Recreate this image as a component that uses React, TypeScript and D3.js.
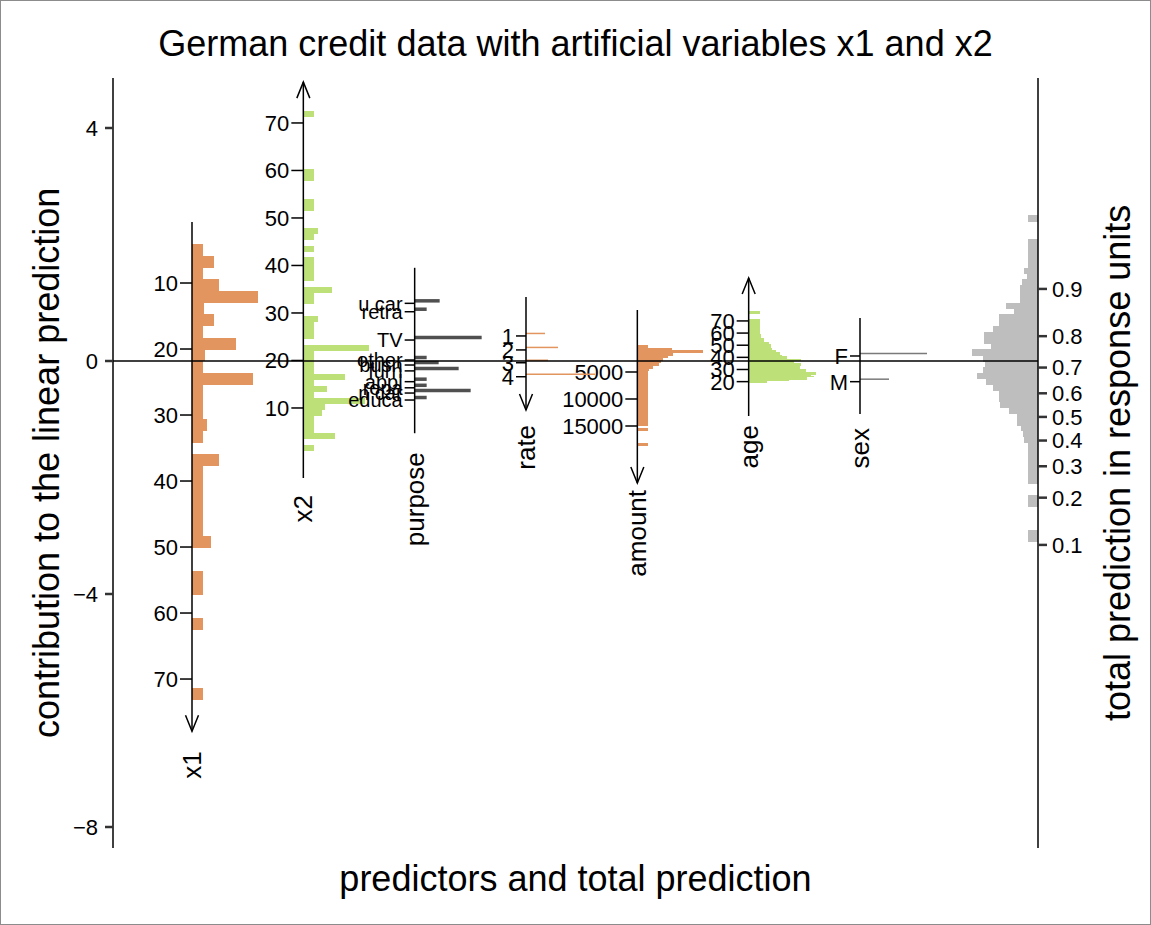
import React from "react";
import * as d3 from "d3";

const W = 1151;
const H = 925;

const titleText = "German credit data with artificial variables x1 and x2";
const xTitle = "predictors and total prediction";
const yTitleLeft = "contribution to the linear prediction";
const yTitleRight = "total prediction in response units";

const predictors = ["x1", "x2", "purpose", "rate", "amount", "age", "sex"];

// main linear-predictor axis
const lpTicks = [4, 0, -4, -8];
const lpAxisRange = [4.86, -8.36];
// response-unit axis (probability), logit(p) = lp + offset
const probTicks = [0.1, 0.2, 0.3, 0.4, 0.5, 0.6, 0.7, 0.8, 0.9];
const probOffset = 0.96;

// x1 (continuous): lp = intercept + slope * x1
const x1Ticks = [10, 20, 30, 40, 50, 60, 70];
const x1Coef = [2.472, -0.11331];
const x1AxisRange = [0.76, 77.9];
const x1BinStart = 4.1;
const x1BinWidth = 1.77;
const x1Counts = [11, 22, 11, 27, 66, 12, 22, 11, 44, 13, 11, 61, 11, 11, 11, 15, 11, 0, 27, 11, 11, 11, 11, 11, 11, 19, 0, 0, 11, 11, 0, 0, 11, 0, 0, 0, 0, 0, 11];

// x2 (continuous), bins listed from the highest value downwards
const x2Ticks = [10, 20, 30, 40, 50, 60, 70];
const x2Coef = [-1.622, 0.08155];
const x2AxisRange = [-4.74, 78.6];
const x2BinTop = 72.53;
const x2BinWidth = 1.232;
const x2Counts = [11, 0, 0, 0, 0, 0, 0, 0, 0, 0, 11, 11, 0, 0, 0, 11, 11, 0, 0, 0, 15, 11, 0, 11, 0, 11, 11, 11, 11, 0, 29, 11, 11, 0, 0, 15, 11, 11, 11, 0, 66, 11, 11, 11, 11, 42, 11, 24, 11, 62, 22, 19, 11, 11, 11, 32, 0, 11];

// purpose (categorical)
const purposeLevels = ["u car", "retra", "TV", "other", "busn", "furn", "appl", "repa", "n car", "educa"];
const purposeLp = [0.99, 0.846, 0.36, 0.017, -0.069, -0.17, -0.355, -0.46, -0.55, -0.67];
const purposeCounts = [25, 12, 67, 12, 24, 44, 12, 12, 56, 12];
const purposeAxisRange = [1.6, -1.24];

// rate
const rateLevels = ["1", "2", "3", "4"];
const rateLp = [0.43, 0.19, -0.03, -0.27];
const rateCounts = [19, 32, 22, 69];
const rateAxisRange = [1.1, -0.84];

// amount (continuous)
const amountTicks = [5000, 10000, 15000];
const amountCoef = [0.2747, -0.0000927];
const amountAxisRange = [-6480, 25550];
const amountBinStart = 0;
const amountBinWidth = 480;
const amountCounts = [11, 35, 66, 36, 31, 26, 24, 22, 16, 12, 11, 11, 11, 11, 11, 11, 11, 11, 11, 11, 11, 11, 11, 11, 11, 11, 11, 11, 11, 11, 11, 0, 11, 0, 0, 0, 0, 0, 11];

// age (continuous), one bin per year from 19
const ageTicks = [20, 30, 40, 50, 60, 70];
const ageCoef = [-0.771, 0.02084];
const ageAxisRange = [-8.3, 105.4];
const ageBinStart = 19;
const ageBinWidth = 1;
const ageCounts = [18, 18, 40, 58, 58, 65, 62, 67, 67, 57, 57, 51, 51, 51, 52, 52, 45, 45, 52, 52, 38, 38, 33, 31, 31, 27, 27, 23, 23, 22, 22, 22, 20, 20, 15, 15, 15, 12, 12, 12, 11, 11, 11, 11, 11, 11, 11, 11, 11, 11, 11, 11, 11, 0, 0, 0, 0, 11, 11];

// sex
const sexLevels = ["F", "M"];
const sexLp = [0.086, -0.355];
const sexCounts = [67, 29];
const sexAxisRange = [0.74, -0.91];

// total prediction histogram (linear predictor), bins from top downward
const totalBinTop = 2.5;
const totalBinWidth = 0.1;
const totalCounts = [10, 0, 0, 0, 10, 10, 10, 10, 10, 14, 11, 16, 18, 18, 18, 32, 24, 39, 39, 45, 54, 54, 47, 66, 55, 53, 55, 61, 52, 45, 39, 39, 38, 29, 21, 21, 17, 15, 14, 10, 10, 10, 10, 10, 10, 10, 0, 0, 10, 10, 0, 0, 0, 0, 10, 10];

const ORANGE = "#E2955F";
const GREEN = "#BEE079";
const GRAY = "#BEBEBE";
const FONT = "'Liberation Sans', Arial, Helvetica, sans-serif";
const TICK_FS = 22;
const TITLE_FS = 36;

const yLP = d3.scaleLinear().domain([4, -8]).range([128, 827]);
const xPred = d3.scalePoint<string>().domain(predictors).range([192, 860]);
const barLen = d3.scaleLinear().domain([0, 100]).range([0, 100]);
const xLeft = 113;
const xRight = 1038;
const fmt = d3.format("");

type Cont = {
  name: string;
  ticks: number[];
  coef: number[];
  range: number[];
  bins: { v0: number; v1: number; c: number }[];
  color: string;
  arrow: "up" | "down";
  gap: number;
};

function makeBins(start: number, width: number, counts: number[], dir: number) {
  return counts.map((c, i) => ({ v0: start + dir * i * width, v1: start + dir * (i + 1) * width, c }));
}

const contVars: Cont[] = [
  { name: "x1", ticks: x1Ticks, coef: x1Coef, range: x1AxisRange, bins: makeBins(x1BinStart, x1BinWidth, x1Counts, 1), color: ORANGE, arrow: "down", gap: 20 },
  { name: "x2", ticks: x2Ticks, coef: x2Coef, range: x2AxisRange, bins: makeBins(x2BinTop, x2BinWidth, x2Counts, -1), color: GREEN, arrow: "up", gap: 17 },
  { name: "amount", ticks: amountTicks, coef: amountCoef, range: amountAxisRange, bins: makeBins(amountBinStart, amountBinWidth, amountCounts, 1), color: ORANGE, arrow: "down", gap: 7 },
  { name: "age", ticks: ageTicks, coef: ageCoef, range: ageAxisRange, bins: makeBins(ageBinStart, ageBinWidth, ageCounts, 1), color: GREEN, arrow: "up", gap: 9 },
];

type Cat = {
  name: string;
  levels: string[];
  lp: number[];
  counts: number[];
  range: number[];
  color: string;
  thick: number;
  arrow: "down" | null;
  fontSize: number;
  gap: number;
};

const catVars: Cat[] = [
  { name: "purpose", levels: purposeLevels, lp: purposeLp, counts: purposeCounts, range: purposeAxisRange, color: "#505050", thick: 3.5, arrow: null, fontSize: 20, gap: 19 },
  { name: "rate", levels: rateLevels, lp: rateLp, counts: rateCounts, range: rateAxisRange, color: ORANGE, thick: 1.5, arrow: "down", fontSize: TICK_FS, gap: 15 },
  { name: "sex", levels: sexLevels, lp: sexLp, counts: sexCounts, range: sexAxisRange, color: "#7A7A7A", thick: 1.5, arrow: null, fontSize: TICK_FS, gap: 14 },
];

function Arrow({ x, y, dir }: { x: number; y: number; dir: number }) {
  // dir = +1 pointing down, -1 pointing up
  return (
    <path d={`M${x - 6.5},${y - dir * 16} L${x},${y} L${x + 6.5},${y - dir * 16}`} fill="none" stroke="#000" strokeWidth={1.5} />
  );
}

function PredLabel({ x, y, text }: { x: number; y: number; text: string }) {
  return (
    <text transform={`translate(${x + 9},${y}) rotate(-90)`} textAnchor="end" fontSize={26} fontFamily={FONT}>
      {text}
    </text>
  );
}

export default function App() {
  const logit = (p: number) => Math.log(p / (1 - p));
  const midY = (yLP(lpAxisRange[0]) + yLP(lpAxisRange[1])) / 2;
  return (
    <svg width={W} height={H} style={{ position: "absolute", left: 0, top: 0, background: "#fff" }}>
      <rect x={0.5} y={0.5} width={W - 1} height={H - 1} fill="#fff" stroke="#8c8c8c" />

      {/* titles */}
      <text x={(xLeft + xRight) / 2} y={56} textAnchor="middle" fontSize={TITLE_FS} fontFamily={FONT}>{titleText}</text>
      <text x={(xLeft + xRight) / 2} y={891} textAnchor="middle" fontSize={TITLE_FS} fontFamily={FONT}>{xTitle}</text>
      <text transform={`translate(59,${midY}) rotate(-90)`} textAnchor="middle" fontSize={TITLE_FS} fontFamily={FONT}>{yTitleLeft}</text>
      <text transform={`translate(1130,${midY}) rotate(-90)`} textAnchor="middle" fontSize={TITLE_FS} fontFamily={FONT}>{yTitleRight}</text>

      {/* total prediction histogram */}
      {totalCounts.map((c, i) => {
        if (!c) return null;
        const y0 = yLP(totalBinTop - i * totalBinWidth);
        const y1 = yLP(totalBinTop - (i + 1) * totalBinWidth);
        return <rect key={"t" + i} x={xRight - barLen(c)} y={y0} width={barLen(c)} height={y1 - y0 + 0.5} fill={GRAY} shapeRendering="crispEdges" />;
      })}

      {/* continuous predictors */}
      {contVars.map((v) => {
        const x = xPred(v.name)!;
        const yOf = (val: number) => yLP(v.coef[0] + v.coef[1] * val);
        const yA = yOf(v.range[0]);
        const yB = yOf(v.range[1]);
        const tipY = v.arrow === "up" ? Math.min(yA, yB) : Math.max(yA, yB);
        const bottom = Math.max(yA, yB);
        return (
          <g key={v.name}>
            {v.bins.map((b, i) => {
              if (!b.c) return null;
              const y0 = Math.min(yOf(b.v0), yOf(b.v1));
              const h = Math.abs(yOf(b.v1) - yOf(b.v0));
              return <rect key={i} x={x} y={y0} width={barLen(b.c)} height={h + 0.3} fill={v.color} shapeRendering="crispEdges" />;
            })}
            <line x1={x} x2={x} y1={yA} y2={yB} stroke="#000" strokeWidth={1.5} />
            <Arrow x={x} y={tipY} dir={v.arrow === "up" ? -1 : 1} />
            {v.ticks.map((t) => (
              <g key={t}>
                <line x1={x - 12} x2={x} y1={yOf(t)} y2={yOf(t)} stroke="#000" strokeWidth={1.5} />
                <text x={x - 14} y={yOf(t)} dy="0.36em" textAnchor="end" fontSize={TICK_FS} fontFamily={FONT}>{fmt(t)}</text>
              </g>
            ))}
            <PredLabel x={x} y={bottom + v.gap} text={v.name} />
          </g>
        );
      })}

      {/* categorical predictors */}
      {catVars.map((v) => {
        const x = xPred(v.name)!;
        const yA = yLP(v.range[0]);
        const yB = yLP(v.range[1]);
        return (
          <g key={v.name}>
            {v.levels.map((lev, i) => (
              <line key={"b" + lev} x1={x} x2={x + barLen(v.counts[i])} y1={yLP(v.lp[i]) - 2.5} y2={yLP(v.lp[i]) - 2.5} stroke={v.color} strokeWidth={v.thick} />
            ))}
            <line x1={x} x2={x} y1={yA} y2={yB} stroke="#000" strokeWidth={1.5} />
            {v.arrow && <Arrow x={x} y={yB} dir={1} />}
            {v.levels.map((lev, i) => (
              <g key={"t" + lev}>
                <line x1={x - 10} x2={x} y1={yLP(v.lp[i])} y2={yLP(v.lp[i])} stroke="#000" strokeWidth={1.5} />
                <text x={x - 12} y={yLP(v.lp[i])} dy="0.36em" textAnchor="end" fontSize={v.fontSize} fontFamily={FONT}>{lev}</text>
              </g>
            ))}
            <PredLabel x={x} y={Math.max(yA, yB) + v.gap} text={v.name} />
          </g>
        );
      })}

      {/* zero line */}
      <line x1={xLeft} x2={xRight} y1={yLP(0)} y2={yLP(0)} stroke="#000" strokeWidth={1.3} />

      {/* left axis */}
      <line x1={xLeft} x2={xLeft} y1={yLP(lpAxisRange[0])} y2={yLP(lpAxisRange[1])} stroke="#000" strokeWidth={1.5} />
      {lpTicks.map((t) => (
        <g key={"l" + t}>
          <line x1={xLeft - 8} x2={xLeft} y1={yLP(t)} y2={yLP(t)} stroke="#333" strokeWidth={2.5} />
          <text x={xLeft - 15} y={yLP(t)} dy="0.36em" textAnchor="end" fontSize={TICK_FS} fontFamily={FONT}>{d3.format("")(t)}</text>
        </g>
      ))}

      {/* right axis */}
      <line x1={xRight} x2={xRight} y1={yLP(lpAxisRange[0])} y2={yLP(lpAxisRange[1])} stroke="#000" strokeWidth={1.5} />
      {probTicks.map((p) => {
        const y = yLP(logit(p) - probOffset);
        return (
          <g key={"r" + p}>
            <line x1={xRight} x2={xRight + 9} y1={y} y2={y} stroke="#333" strokeWidth={2.5} />
            <text x={xRight + 14} y={y} dy="0.36em" textAnchor="start" fontSize={TICK_FS} fontFamily={FONT}>{d3.format(".1f")(p)}</text>
          </g>
        );
      })}
    </svg>
  );
}
